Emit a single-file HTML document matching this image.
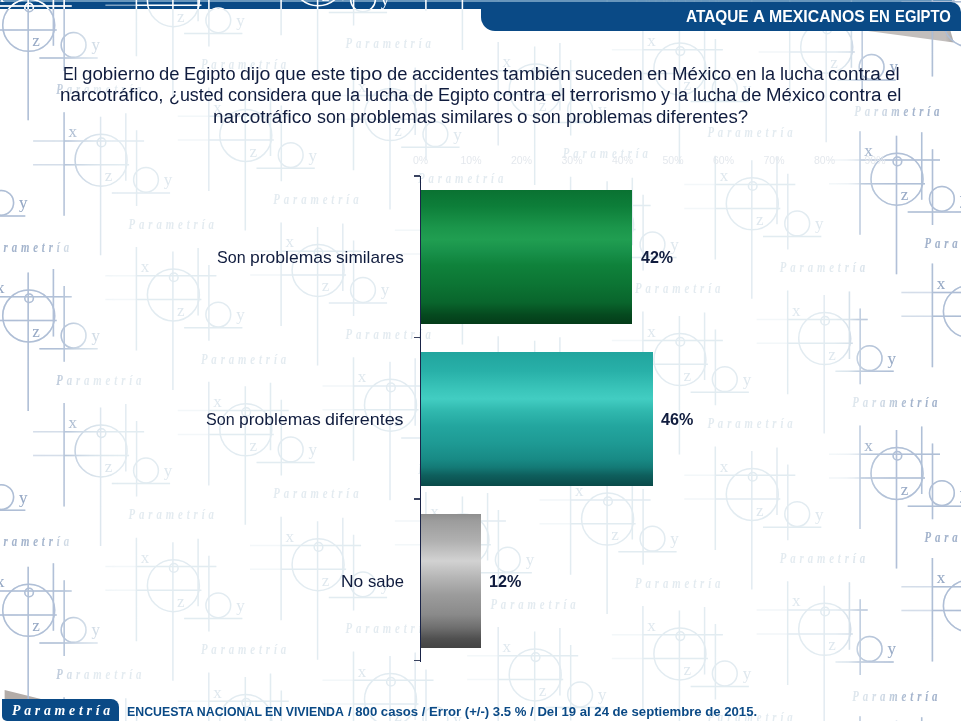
<!DOCTYPE html>
<html lang="es">
<head>
<meta charset="utf-8">
<title>Ataque a mexicanos en Egipto</title>
<style>
html,body{margin:0;padding:0;background:#fff;}
h1{margin:0;font-size:17px;}
body{width:961px;height:721px;position:relative;overflow:hidden;font-family:"Liberation Sans",sans-serif;}
.wm{position:absolute;left:0;top:0;}
.wm g.all{stroke-width:1.5;}
.wm circle,.wm path{fill:none;stroke-opacity:var(--so,1);}
.wm path.f{stroke-opacity:calc(var(--so,1)*.45);}
.wm text{stroke:none;fill-opacity:var(--lo,1);font-family:"Liberation Serif",serif;font-size:17px;text-anchor:middle;}
.wm text.pm{fill-opacity:var(--to,.85);font-style:italic;font-weight:bold;font-size:15px;letter-spacing:5.4px;text-anchor:start;}
.topbar{position:absolute;left:0;top:0;width:951.5px;height:9px;background:linear-gradient(#6896bc 0,#6896bc 1.6px,#0a4a86 2.4px,#0a4a86 100%);}
.tab{position:absolute;left:481px;top:2px;width:480px;height:29.4px;background:#0a4a86;border-radius:0 10px 0 14px;}
.tabsh{position:absolute;left:0;top:0;}
.t{position:absolute;white-space:pre;transform-origin:0 0;}
.ax{position:absolute;top:154px;width:30px;text-align:center;font-size:10.5px;line-height:12px;color:#e4e8ed;}
.axis{position:absolute;left:419.5px;top:176px;width:1.5px;height:486px;background:#1a2448;}
.tick{position:absolute;left:414.2px;width:6px;height:1.5px;background:#3a4360;margin-top:-0.8px;}
.bar{position:absolute;left:421px;height:134px;}
.b1{top:189.5px;width:211px;background:linear-gradient(#0a7232 0,#0d7e39 12%,#1b964b 28%,#209e51 37%,#18914a 46%,#0f823b 56%,#0c7534 70%,#09652c 84%,#054a1f 93%,#043c19 100%);}
.b2{top:351.5px;width:231.5px;background:linear-gradient(#21a59e 0,#28b0a8 14%,#3ac5ba 28%,#42cdc2 35%,#30b8ae 44%,#23a69f 55%,#1e9a94 68%,#188a85 80%,#147a76 86%,#0e5f5d 92%,#0a4a49 100%);}
.b3{top:513.5px;width:59.5px;background:linear-gradient(#8e8e8e 0,#9c9c9c 5%,#b0b0b0 20%,#d2d2d2 35%,#b4b4b4 48%,#9c9c9c 60%,#8a8a8a 75%,#6e6e6e 85%,#505050 93%,#444 100%);}
.logo{position:absolute;left:2px;top:699.3px;width:116.6px;height:21.7px;background:#0a4a86;border-radius:0 8px 0 5px;}
.logo span{position:absolute;left:10px;top:3.7px;font-family:"Liberation Serif",serif;font-style:italic;font-weight:bold;font-size:13.8px;line-height:16px;letter-spacing:3.75px;color:#fff;white-space:nowrap;}
</style>
</head>
<body>
<div class="topbar"></div>
<svg class="tabsh" width="961" height="50" viewBox="0 0 961 50">
<defs><linearGradient id="sh" x1="0" x2="1" y1="0" y2="0"><stop offset="0.9" stop-color="#c2bebc"/><stop offset="1" stop-color="#aaa6a4"/></linearGradient></defs>
<path d="M868 31L950.5 31L953.8 42.4Z" fill="url(#sh)"/>
</svg>
<svg class="tabsh" style="top:680px" width="60" height="41" viewBox="0 680 60 41">
<path d="M4.6 690L44 699.8L4.6 699.8Z" fill="#b3aca8"/>
</svg>
<svg class="wm" width="961" height="721" viewBox="0 0 961 721">
<defs>
<linearGradient id="fade" x1="0" x2="1" y1="0" y2="0">
<stop offset="0.0000" stop-color="#fff" stop-opacity="1"/>
<stop offset="0.0624" stop-color="#fff" stop-opacity="0.93"/>
<stop offset="0.0728" stop-color="#fff" stop-opacity="0.7"/>
<stop offset="0.0832" stop-color="#fff" stop-opacity="0.4"/>
<stop offset="0.0957" stop-color="#fff" stop-opacity="0.2"/>
<stop offset="0.1093" stop-color="#fff" stop-opacity="0.05"/>
<stop offset="0.1249" stop-color="#fff" stop-opacity="0"/>
<stop offset="0.8689" stop-color="#fff" stop-opacity="0"/>
<stop offset="0.8824" stop-color="#fff" stop-opacity="0.15"/>
<stop offset="0.8928" stop-color="#fff" stop-opacity="0.6"/>
<stop offset="0.9053" stop-color="#fff" stop-opacity="0.8"/>
<stop offset="0.9261" stop-color="#fff" stop-opacity="0.93"/>
<stop offset="1.0000" stop-color="#fff" stop-opacity="1"/>
</linearGradient>
<linearGradient id="fadet" x1="0" x2="1" y1="0" y2="0">
<stop offset="0.0000" stop-color="#fff" stop-opacity="1"/>
<stop offset="0.0520" stop-color="#fff" stop-opacity="0.9"/>
<stop offset="0.0593" stop-color="#fff" stop-opacity="0.6"/>
<stop offset="0.0687" stop-color="#fff" stop-opacity="0.25"/>
<stop offset="0.0832" stop-color="#fff" stop-opacity="0.05"/>
<stop offset="0.0989" stop-color="#fff" stop-opacity="0"/>
<stop offset="0.8637" stop-color="#fff" stop-opacity="0"/>
<stop offset="0.8845" stop-color="#fff" stop-opacity="0.04"/>
<stop offset="0.9053" stop-color="#fff" stop-opacity="0.16"/>
<stop offset="0.9209" stop-color="#fff" stop-opacity="0.36"/>
<stop offset="0.9324" stop-color="#fff" stop-opacity="0.62"/>
<stop offset="0.9448" stop-color="#fff" stop-opacity="0.93"/>
<stop offset="1.0000" stop-color="#fff" stop-opacity="1"/>
</linearGradient>
<clipPath id="tc"><rect x="0" y="0" width="481" height="9"/></clipPath>
<mask id="mk" maskUnits="userSpaceOnUse" x="0" y="0" width="961" height="721"><rect width="961" height="721" fill="url(#fade)"/></mask>
<mask id="mkt" maskUnits="userSpaceOnUse" x="0" y="0" width="961" height="721"><rect width="961" height="721" fill="url(#fadet)"/></mask>
</defs>
<g class="all" opacity="0.27" stroke="#94b6cb" fill="#86a8c0"><g id="mm"><g transform="translate(-116.0 46.3)"><circle r="26"/><circle cx="0.4" cy="-17.8" r="4.3"/><circle cx="44.9" cy="19.6" r="12.4"/><path d="M-37 -19.2H43M-37 4.6H28M10.7 32.7H69M-37 -48V55.6M-0.5 -43.5V95M24.7 -47V20.5M35.5 -30V45.7"/><path class="f" d="M-68 -19.2H-37M-68 4.6H-37"/><text x="-28.4" y="-23">x</text><text x="7.4" y="21">z</text><text x="67" y="25">y</text><text class="pm" transform="translate(27.5 68.5) scale(.72 1)">Parametría</text></g><g transform="translate(-116.0 340.6)"><circle r="26"/><circle cx="0.4" cy="-17.8" r="4.3"/><circle cx="44.9" cy="19.6" r="12.4"/><path d="M-37 -19.2H43M-37 4.6H28M10.7 32.7H69M-37 -48V55.6M-0.5 -43.5V95M24.7 -47V20.5M35.5 -30V45.7"/><path class="f" d="M-68 -19.2H-37M-68 4.6H-37"/><text x="-28.4" y="-23">x</text><text x="7.4" y="21">z</text><text x="67" y="25">y</text><text class="pm" transform="translate(27.5 68.5) scale(.72 1)">Parametría</text></g><g transform="translate(-116.0 631.3)"><circle r="26"/><circle cx="0.4" cy="-17.8" r="4.3"/><circle cx="44.9" cy="19.6" r="12.4"/><path d="M-37 -19.2H43M-37 4.6H28M10.7 32.7H69M-37 -48V55.6M-0.5 -43.5V95M24.7 -47V20.5M35.5 -30V45.7"/><path class="f" d="M-68 -19.2H-37M-68 4.6H-37"/><text x="-28.4" y="-23">x</text><text x="7.4" y="21">z</text><text x="67" y="25">y</text><text class="pm" transform="translate(27.5 68.5) scale(.72 1)">Parametría</text></g><g transform="translate(-43.7 -107.6)"><circle r="26"/><circle cx="0.4" cy="-17.8" r="4.3"/><circle cx="44.9" cy="19.6" r="12.4"/><path d="M-37 -19.2H43M-37 4.6H28M10.7 32.7H69M-37 -48V55.6M-0.5 -43.5V95M24.7 -47V20.5M35.5 -30V45.7"/><path class="f" d="M-68 -19.2H-37M-68 4.6H-37"/><text x="-28.4" y="-23">x</text><text x="7.4" y="21">z</text><text x="67" y="25">y</text><text class="pm" transform="translate(27.5 68.5) scale(.72 1)">Parametría</text></g><g transform="translate(-43.7 183.2)"><circle r="26"/><circle cx="0.4" cy="-17.8" r="4.3"/><circle cx="44.9" cy="19.6" r="12.4"/><path d="M-37 -19.2H43M-37 4.6H28M10.7 32.7H69M-37 -48V55.6M-0.5 -43.5V95M24.7 -47V20.5M35.5 -30V45.7"/><path class="f" d="M-68 -19.2H-37M-68 4.6H-37"/><text x="-28.4" y="-23">x</text><text x="7.4" y="21">z</text><text x="67" y="25">y</text><text class="pm" transform="translate(27.5 68.5) scale(.72 1)">Parametría</text></g><g transform="translate(-43.7 477.5)"><circle r="26"/><circle cx="0.4" cy="-17.8" r="4.3"/><circle cx="44.9" cy="19.6" r="12.4"/><path d="M-37 -19.2H43M-37 4.6H28M10.7 32.7H69M-37 -48V55.6M-0.5 -43.5V95M24.7 -47V20.5M35.5 -30V45.7"/><path class="f" d="M-68 -19.2H-37M-68 4.6H-37"/><text x="-28.4" y="-23">x</text><text x="7.4" y="21">z</text><text x="67" y="25">y</text><text class="pm" transform="translate(27.5 68.5) scale(.72 1)">Parametría</text></g><g transform="translate(-43.7 768.1)"><circle r="26"/><circle cx="0.4" cy="-17.8" r="4.3"/><circle cx="44.9" cy="19.6" r="12.4"/><path d="M-37 -19.2H43M-37 4.6H28M10.7 32.7H69M-37 -48V55.6M-0.5 -43.5V95M24.7 -47V20.5M35.5 -30V45.7"/><path class="f" d="M-68 -19.2H-37M-68 4.6H-37"/><text x="-28.4" y="-23">x</text><text x="7.4" y="21">z</text><text x="67" y="25">y</text><text class="pm" transform="translate(27.5 68.5) scale(.72 1)">Parametría</text></g><g transform="translate(28.7 25.3)"><circle r="26"/><circle cx="0.4" cy="-17.8" r="4.3"/><circle cx="44.9" cy="19.6" r="12.4"/><path d="M-37 -19.2H43M-37 4.6H28M10.7 32.7H69M-37 -48V55.6M-0.5 -43.5V95M24.7 -47V20.5M35.5 -30V45.7"/><path class="f" d="M-68 -19.2H-37M-68 4.6H-37"/><text x="-28.4" y="-23">x</text><text x="7.4" y="21">z</text><text x="67" y="25">y</text><text class="pm" transform="translate(27.5 68.5) scale(.72 1)">Parametría</text></g><g transform="translate(28.7 316.0)"><circle r="26"/><circle cx="0.4" cy="-17.8" r="4.3"/><circle cx="44.9" cy="19.6" r="12.4"/><path d="M-37 -19.2H43M-37 4.6H28M10.7 32.7H69M-37 -48V55.6M-0.5 -43.5V95M24.7 -47V20.5M35.5 -30V45.7"/><path class="f" d="M-68 -19.2H-37M-68 4.6H-37"/><text x="-28.4" y="-23">x</text><text x="7.4" y="21">z</text><text x="67" y="25">y</text><text class="pm" transform="translate(27.5 68.5) scale(.72 1)">Parametría</text></g><g transform="translate(28.7 610.3)"><circle r="26"/><circle cx="0.4" cy="-17.8" r="4.3"/><circle cx="44.9" cy="19.6" r="12.4"/><path d="M-37 -19.2H43M-37 4.6H28M10.7 32.7H69M-37 -48V55.6M-0.5 -43.5V95M24.7 -47V20.5M35.5 -30V45.7"/><path class="f" d="M-68 -19.2H-37M-68 4.6H-37"/><text x="-28.4" y="-23">x</text><text x="7.4" y="21">z</text><text x="67" y="25">y</text><text class="pm" transform="translate(27.5 68.5) scale(.72 1)">Parametría</text></g><g transform="translate(101.1 160.2)"><circle r="26"/><circle cx="0.4" cy="-17.8" r="4.3"/><circle cx="44.9" cy="19.6" r="12.4"/><path d="M-37 -19.2H43M-37 4.6H28M10.7 32.7H69M-37 -48V55.6M-0.5 -43.5V95M24.7 -47V20.5M35.5 -30V45.7"/><path class="f" d="M-68 -19.2H-37M-68 4.6H-37"/><text x="-28.4" y="-23">x</text><text x="7.4" y="21">z</text><text x="67" y="25">y</text><text class="pm" transform="translate(27.5 68.5) scale(.72 1)">Parametría</text></g><g transform="translate(101.1 450.9)"><circle r="26"/><circle cx="0.4" cy="-17.8" r="4.3"/><circle cx="44.9" cy="19.6" r="12.4"/><path d="M-37 -19.2H43M-37 4.6H28M10.7 32.7H69M-37 -48V55.6M-0.5 -43.5V95M24.7 -47V20.5M35.5 -30V45.7"/><path class="f" d="M-68 -19.2H-37M-68 4.6H-37"/><text x="-28.4" y="-23">x</text><text x="7.4" y="21">z</text><text x="67" y="25">y</text><text class="pm" transform="translate(27.5 68.5) scale(.72 1)">Parametría</text></g><g transform="translate(101.1 745.2)"><circle r="26"/><circle cx="0.4" cy="-17.8" r="4.3"/><circle cx="44.9" cy="19.6" r="12.4"/><path d="M-37 -19.2H43M-37 4.6H28M10.7 32.7H69M-37 -48V55.6M-0.5 -43.5V95M24.7 -47V20.5M35.5 -30V45.7"/><path class="f" d="M-68 -19.2H-37M-68 4.6H-37"/><text x="-28.4" y="-23">x</text><text x="7.4" y="21">z</text><text x="67" y="25">y</text><text class="pm" transform="translate(27.5 68.5) scale(.72 1)">Parametría</text></g><g transform="translate(173.4 0.7)"><circle r="26"/><circle cx="0.4" cy="-17.8" r="4.3"/><circle cx="44.9" cy="19.6" r="12.4"/><path d="M-37 -19.2H43M-37 4.6H28M10.7 32.7H69M-37 -48V55.6M-0.5 -43.5V95M24.7 -47V20.5M35.5 -30V45.7"/><path class="f" d="M-68 -19.2H-37M-68 4.6H-37"/><text x="-28.4" y="-23">x</text><text x="7.4" y="21">z</text><text x="67" y="25">y</text><text class="pm" transform="translate(27.5 68.5) scale(.72 1)">Parametría</text></g><g transform="translate(173.4 295.0)"><circle r="26"/><circle cx="0.4" cy="-17.8" r="4.3"/><circle cx="44.9" cy="19.6" r="12.4"/><path d="M-37 -19.2H43M-37 4.6H28M10.7 32.7H69M-37 -48V55.6M-0.5 -43.5V95M24.7 -47V20.5M35.5 -30V45.7"/><path class="f" d="M-68 -19.2H-37M-68 4.6H-37"/><text x="-28.4" y="-23">x</text><text x="7.4" y="21">z</text><text x="67" y="25">y</text><text class="pm" transform="translate(27.5 68.5) scale(.72 1)">Parametría</text></g><g transform="translate(173.4 585.7)"><circle r="26"/><circle cx="0.4" cy="-17.8" r="4.3"/><circle cx="44.9" cy="19.6" r="12.4"/><path d="M-37 -19.2H43M-37 4.6H28M10.7 32.7H69M-37 -48V55.6M-0.5 -43.5V95M24.7 -47V20.5M35.5 -30V45.7"/><path class="f" d="M-68 -19.2H-37M-68 4.6H-37"/><text x="-28.4" y="-23">x</text><text x="7.4" y="21">z</text><text x="67" y="25">y</text><text class="pm" transform="translate(27.5 68.5) scale(.72 1)">Parametría</text></g><g transform="translate(245.8 135.5)"><circle r="26"/><circle cx="0.4" cy="-17.8" r="4.3"/><circle cx="44.9" cy="19.6" r="12.4"/><path d="M-37 -19.2H43M-37 4.6H28M10.7 32.7H69M-37 -48V55.6M-0.5 -43.5V95M24.7 -47V20.5M35.5 -30V45.7"/><path class="f" d="M-68 -19.2H-37M-68 4.6H-37"/><text x="-28.4" y="-23">x</text><text x="7.4" y="21">z</text><text x="67" y="25">y</text><text class="pm" transform="translate(27.5 68.5) scale(.72 1)">Parametría</text></g><g transform="translate(245.8 429.8)"><circle r="26"/><circle cx="0.4" cy="-17.8" r="4.3"/><circle cx="44.9" cy="19.6" r="12.4"/><path d="M-37 -19.2H43M-37 4.6H28M10.7 32.7H69M-37 -48V55.6M-0.5 -43.5V95M24.7 -47V20.5M35.5 -30V45.7"/><path class="f" d="M-68 -19.2H-37M-68 4.6H-37"/><text x="-28.4" y="-23">x</text><text x="7.4" y="21">z</text><text x="67" y="25">y</text><text class="pm" transform="translate(27.5 68.5) scale(.72 1)">Parametría</text></g><g transform="translate(245.8 720.5)"><circle r="26"/><circle cx="0.4" cy="-17.8" r="4.3"/><circle cx="44.9" cy="19.6" r="12.4"/><path d="M-37 -19.2H43M-37 4.6H28M10.7 32.7H69M-37 -48V55.6M-0.5 -43.5V95M24.7 -47V20.5M35.5 -30V45.7"/><path class="f" d="M-68 -19.2H-37M-68 4.6H-37"/><text x="-28.4" y="-23">x</text><text x="7.4" y="21">z</text><text x="67" y="25">y</text><text class="pm" transform="translate(27.5 68.5) scale(.72 1)">Parametría</text></g><g transform="translate(318.1 -20.3)"><circle r="26"/><circle cx="0.4" cy="-17.8" r="4.3"/><circle cx="44.9" cy="19.6" r="12.4"/><path d="M-37 -19.2H43M-37 4.6H28M10.7 32.7H69M-37 -48V55.6M-0.5 -43.5V95M24.7 -47V20.5M35.5 -30V45.7"/><path class="f" d="M-68 -19.2H-37M-68 4.6H-37"/><text x="-28.4" y="-23">x</text><text x="7.4" y="21">z</text><text x="67" y="25">y</text><text class="pm" transform="translate(27.5 68.5) scale(.72 1)">Parametría</text></g><g transform="translate(318.1 270.4)"><circle r="26"/><circle cx="0.4" cy="-17.8" r="4.3"/><circle cx="44.9" cy="19.6" r="12.4"/><path d="M-37 -19.2H43M-37 4.6H28M10.7 32.7H69M-37 -48V55.6M-0.5 -43.5V95M24.7 -47V20.5M35.5 -30V45.7"/><path class="f" d="M-68 -19.2H-37M-68 4.6H-37"/><text x="-28.4" y="-23">x</text><text x="7.4" y="21">z</text><text x="67" y="25">y</text><text class="pm" transform="translate(27.5 68.5) scale(.72 1)">Parametría</text></g><g transform="translate(318.1 564.7)"><circle r="26"/><circle cx="0.4" cy="-17.8" r="4.3"/><circle cx="44.9" cy="19.6" r="12.4"/><path d="M-37 -19.2H43M-37 4.6H28M10.7 32.7H69M-37 -48V55.6M-0.5 -43.5V95M24.7 -47V20.5M35.5 -30V45.7"/><path class="f" d="M-68 -19.2H-37M-68 4.6H-37"/><text x="-28.4" y="-23">x</text><text x="7.4" y="21">z</text><text x="67" y="25">y</text><text class="pm" transform="translate(27.5 68.5) scale(.72 1)">Parametría</text></g><g transform="translate(390.5 114.6)"><circle r="26"/><circle cx="0.4" cy="-17.8" r="4.3"/><circle cx="44.9" cy="19.6" r="12.4"/><path d="M-37 -19.2H43M-37 4.6H28M10.7 32.7H69M-37 -48V55.6M-0.5 -43.5V95M24.7 -47V20.5M35.5 -30V45.7"/><path class="f" d="M-68 -19.2H-37M-68 4.6H-37"/><text x="-28.4" y="-23">x</text><text x="7.4" y="21">z</text><text x="67" y="25">y</text><text class="pm" transform="translate(27.5 68.5) scale(.72 1)">Parametría</text></g><g transform="translate(390.5 405.2)"><circle r="26"/><circle cx="0.4" cy="-17.8" r="4.3"/><circle cx="44.9" cy="19.6" r="12.4"/><path d="M-37 -19.2H43M-37 4.6H28M10.7 32.7H69M-37 -48V55.6M-0.5 -43.5V95M24.7 -47V20.5M35.5 -30V45.7"/><path class="f" d="M-68 -19.2H-37M-68 4.6H-37"/><text x="-28.4" y="-23">x</text><text x="7.4" y="21">z</text><text x="67" y="25">y</text><text class="pm" transform="translate(27.5 68.5) scale(.72 1)">Parametría</text></g><g transform="translate(390.5 699.5)"><circle r="26"/><circle cx="0.4" cy="-17.8" r="4.3"/><circle cx="44.9" cy="19.6" r="12.4"/><path d="M-37 -19.2H43M-37 4.6H28M10.7 32.7H69M-37 -48V55.6M-0.5 -43.5V95M24.7 -47V20.5M35.5 -30V45.7"/><path class="f" d="M-68 -19.2H-37M-68 4.6H-37"/><text x="-28.4" y="-23">x</text><text x="7.4" y="21">z</text><text x="67" y="25">y</text><text class="pm" transform="translate(27.5 68.5) scale(.72 1)">Parametría</text></g><g transform="translate(462.9 -44.9)"><circle r="26"/><circle cx="0.4" cy="-17.8" r="4.3"/><circle cx="44.9" cy="19.6" r="12.4"/><path d="M-37 -19.2H43M-37 4.6H28M10.7 32.7H69M-37 -48V55.6M-0.5 -43.5V95M24.7 -47V20.5M35.5 -30V45.7"/><path class="f" d="M-68 -19.2H-37M-68 4.6H-37"/><text x="-28.4" y="-23">x</text><text x="7.4" y="21">z</text><text x="67" y="25">y</text><text class="pm" transform="translate(27.5 68.5) scale(.72 1)">Parametría</text></g><g transform="translate(462.9 249.4)"><circle r="26"/><circle cx="0.4" cy="-17.8" r="4.3"/><circle cx="44.9" cy="19.6" r="12.4"/><path d="M-37 -19.2H43M-37 4.6H28M10.7 32.7H69M-37 -48V55.6M-0.5 -43.5V95M24.7 -47V20.5M35.5 -30V45.7"/><path class="f" d="M-68 -19.2H-37M-68 4.6H-37"/><text x="-28.4" y="-23">x</text><text x="7.4" y="21">z</text><text x="67" y="25">y</text><text class="pm" transform="translate(27.5 68.5) scale(.72 1)">Parametría</text></g><g transform="translate(462.9 540.1)"><circle r="26"/><circle cx="0.4" cy="-17.8" r="4.3"/><circle cx="44.9" cy="19.6" r="12.4"/><path d="M-37 -19.2H43M-37 4.6H28M10.7 32.7H69M-37 -48V55.6M-0.5 -43.5V95M24.7 -47V20.5M35.5 -30V45.7"/><path class="f" d="M-68 -19.2H-37M-68 4.6H-37"/><text x="-28.4" y="-23">x</text><text x="7.4" y="21">z</text><text x="67" y="25">y</text><text class="pm" transform="translate(27.5 68.5) scale(.72 1)">Parametría</text></g><g transform="translate(535.2 89.9)"><circle r="26"/><circle cx="0.4" cy="-17.8" r="4.3"/><circle cx="44.9" cy="19.6" r="12.4"/><path d="M-37 -19.2H43M-37 4.6H28M10.7 32.7H69M-37 -48V55.6M-0.5 -43.5V95M24.7 -47V20.5M35.5 -30V45.7"/><path class="f" d="M-68 -19.2H-37M-68 4.6H-37"/><text x="-28.4" y="-23">x</text><text x="7.4" y="21">z</text><text x="67" y="25">y</text><text class="pm" transform="translate(27.5 68.5) scale(.72 1)">Parametría</text></g><g transform="translate(535.2 384.2)"><circle r="26"/><circle cx="0.4" cy="-17.8" r="4.3"/><circle cx="44.9" cy="19.6" r="12.4"/><path d="M-37 -19.2H43M-37 4.6H28M10.7 32.7H69M-37 -48V55.6M-0.5 -43.5V95M24.7 -47V20.5M35.5 -30V45.7"/><path class="f" d="M-68 -19.2H-37M-68 4.6H-37"/><text x="-28.4" y="-23">x</text><text x="7.4" y="21">z</text><text x="67" y="25">y</text><text class="pm" transform="translate(27.5 68.5) scale(.72 1)">Parametría</text></g><g transform="translate(535.2 674.9)"><circle r="26"/><circle cx="0.4" cy="-17.8" r="4.3"/><circle cx="44.9" cy="19.6" r="12.4"/><path d="M-37 -19.2H43M-37 4.6H28M10.7 32.7H69M-37 -48V55.6M-0.5 -43.5V95M24.7 -47V20.5M35.5 -30V45.7"/><path class="f" d="M-68 -19.2H-37M-68 4.6H-37"/><text x="-28.4" y="-23">x</text><text x="7.4" y="21">z</text><text x="67" y="25">y</text><text class="pm" transform="translate(27.5 68.5) scale(.72 1)">Parametría</text></g><g transform="translate(607.6 -65.9)"><circle r="26"/><circle cx="0.4" cy="-17.8" r="4.3"/><circle cx="44.9" cy="19.6" r="12.4"/><path d="M-37 -19.2H43M-37 4.6H28M10.7 32.7H69M-37 -48V55.6M-0.5 -43.5V95M24.7 -47V20.5M35.5 -30V45.7"/><path class="f" d="M-68 -19.2H-37M-68 4.6H-37"/><text x="-28.4" y="-23">x</text><text x="7.4" y="21">z</text><text x="67" y="25">y</text><text class="pm" transform="translate(27.5 68.5) scale(.72 1)">Parametría</text></g><g transform="translate(607.6 224.8)"><circle r="26"/><circle cx="0.4" cy="-17.8" r="4.3"/><circle cx="44.9" cy="19.6" r="12.4"/><path d="M-37 -19.2H43M-37 4.6H28M10.7 32.7H69M-37 -48V55.6M-0.5 -43.5V95M24.7 -47V20.5M35.5 -30V45.7"/><path class="f" d="M-68 -19.2H-37M-68 4.6H-37"/><text x="-28.4" y="-23">x</text><text x="7.4" y="21">z</text><text x="67" y="25">y</text><text class="pm" transform="translate(27.5 68.5) scale(.72 1)">Parametría</text></g><g transform="translate(607.6 519.1)"><circle r="26"/><circle cx="0.4" cy="-17.8" r="4.3"/><circle cx="44.9" cy="19.6" r="12.4"/><path d="M-37 -19.2H43M-37 4.6H28M10.7 32.7H69M-37 -48V55.6M-0.5 -43.5V95M24.7 -47V20.5M35.5 -30V45.7"/><path class="f" d="M-68 -19.2H-37M-68 4.6H-37"/><text x="-28.4" y="-23">x</text><text x="7.4" y="21">z</text><text x="67" y="25">y</text><text class="pm" transform="translate(27.5 68.5) scale(.72 1)">Parametría</text></g><g transform="translate(679.9 68.9)"><circle r="26"/><circle cx="0.4" cy="-17.8" r="4.3"/><circle cx="44.9" cy="19.6" r="12.4"/><path d="M-37 -19.2H43M-37 4.6H28M10.7 32.7H69M-37 -48V55.6M-0.5 -43.5V95M24.7 -47V20.5M35.5 -30V45.7"/><path class="f" d="M-68 -19.2H-37M-68 4.6H-37"/><text x="-28.4" y="-23">x</text><text x="7.4" y="21">z</text><text x="67" y="25">y</text><text class="pm" transform="translate(27.5 68.5) scale(.72 1)">Parametría</text></g><g transform="translate(679.9 359.6)"><circle r="26"/><circle cx="0.4" cy="-17.8" r="4.3"/><circle cx="44.9" cy="19.6" r="12.4"/><path d="M-37 -19.2H43M-37 4.6H28M10.7 32.7H69M-37 -48V55.6M-0.5 -43.5V95M24.7 -47V20.5M35.5 -30V45.7"/><path class="f" d="M-68 -19.2H-37M-68 4.6H-37"/><text x="-28.4" y="-23">x</text><text x="7.4" y="21">z</text><text x="67" y="25">y</text><text class="pm" transform="translate(27.5 68.5) scale(.72 1)">Parametría</text></g><g transform="translate(679.9 653.9)"><circle r="26"/><circle cx="0.4" cy="-17.8" r="4.3"/><circle cx="44.9" cy="19.6" r="12.4"/><path d="M-37 -19.2H43M-37 4.6H28M10.7 32.7H69M-37 -48V55.6M-0.5 -43.5V95M24.7 -47V20.5M35.5 -30V45.7"/><path class="f" d="M-68 -19.2H-37M-68 4.6H-37"/><text x="-28.4" y="-23">x</text><text x="7.4" y="21">z</text><text x="67" y="25">y</text><text class="pm" transform="translate(27.5 68.5) scale(.72 1)">Parametría</text></g><g transform="translate(752.3 -90.5)"><circle r="26"/><circle cx="0.4" cy="-17.8" r="4.3"/><circle cx="44.9" cy="19.6" r="12.4"/><path d="M-37 -19.2H43M-37 4.6H28M10.7 32.7H69M-37 -48V55.6M-0.5 -43.5V95M24.7 -47V20.5M35.5 -30V45.7"/><path class="f" d="M-68 -19.2H-37M-68 4.6H-37"/><text x="-28.4" y="-23">x</text><text x="7.4" y="21">z</text><text x="67" y="25">y</text><text class="pm" transform="translate(27.5 68.5) scale(.72 1)">Parametría</text></g><g transform="translate(752.3 203.8)"><circle r="26"/><circle cx="0.4" cy="-17.8" r="4.3"/><circle cx="44.9" cy="19.6" r="12.4"/><path d="M-37 -19.2H43M-37 4.6H28M10.7 32.7H69M-37 -48V55.6M-0.5 -43.5V95M24.7 -47V20.5M35.5 -30V45.7"/><path class="f" d="M-68 -19.2H-37M-68 4.6H-37"/><text x="-28.4" y="-23">x</text><text x="7.4" y="21">z</text><text x="67" y="25">y</text><text class="pm" transform="translate(27.5 68.5) scale(.72 1)">Parametría</text></g><g transform="translate(752.3 494.5)"><circle r="26"/><circle cx="0.4" cy="-17.8" r="4.3"/><circle cx="44.9" cy="19.6" r="12.4"/><path d="M-37 -19.2H43M-37 4.6H28M10.7 32.7H69M-37 -48V55.6M-0.5 -43.5V95M24.7 -47V20.5M35.5 -30V45.7"/><path class="f" d="M-68 -19.2H-37M-68 4.6H-37"/><text x="-28.4" y="-23">x</text><text x="7.4" y="21">z</text><text x="67" y="25">y</text><text class="pm" transform="translate(27.5 68.5) scale(.72 1)">Parametría</text></g><g transform="translate(826.7 47.3)"><circle r="26"/><circle cx="0.4" cy="-17.8" r="4.3"/><circle cx="44.9" cy="19.6" r="12.4"/><path d="M-37 -19.2H43M-37 4.6H28M10.7 32.7H69M-37 -48V55.6M-0.5 -43.5V95M24.7 -47V20.5M35.5 -30V45.7"/><path class="f" d="M-68 -19.2H-37M-68 4.6H-37"/><text x="-28.4" y="-23">x</text><text x="7.4" y="21">z</text><text x="67" y="25">y</text><text class="pm" transform="translate(27.5 68.5) scale(.72 1)">Parametría</text></g><g transform="translate(824.7 338.6)"><circle r="26"/><circle cx="0.4" cy="-17.8" r="4.3"/><circle cx="44.9" cy="19.6" r="12.4"/><path d="M-37 -19.2H43M-37 4.6H28M10.7 32.7H69M-37 -48V55.6M-0.5 -43.5V95M24.7 -47V20.5M35.5 -30V45.7"/><path class="f" d="M-68 -19.2H-37M-68 4.6H-37"/><text x="-28.4" y="-23">x</text><text x="7.4" y="21">z</text><text x="67" y="25">y</text><text class="pm" transform="translate(27.5 68.5) scale(.72 1)">Parametría</text></g><g transform="translate(824.7 629.3)"><circle r="26"/><circle cx="0.4" cy="-17.8" r="4.3"/><circle cx="44.9" cy="19.6" r="12.4"/><path d="M-37 -19.2H43M-37 4.6H28M10.7 32.7H69M-37 -48V55.6M-0.5 -43.5V95M24.7 -47V20.5M35.5 -30V45.7"/><path class="f" d="M-68 -19.2H-37M-68 4.6H-37"/><text x="-28.4" y="-23">x</text><text x="7.4" y="21">z</text><text x="67" y="25">y</text><text class="pm" transform="translate(27.5 72) scale(.72 1)">Parametría</text></g><g transform="translate(897.0 179.2)"><circle r="26"/><circle cx="0.4" cy="-17.8" r="4.3"/><circle cx="44.9" cy="19.6" r="12.4"/><path d="M-37 -19.2H43M-37 4.6H28M10.7 32.7H69M-37 -48V55.6M-0.5 -43.5V95M24.7 -47V20.5M35.5 -30V45.7"/><path class="f" d="M-68 -19.2H-37M-68 4.6H-37"/><text x="-28.4" y="-23">x</text><text x="7.4" y="21">z</text><text x="67" y="25">y</text><text class="pm" transform="translate(27.5 68.5) scale(.72 1)">Parametría</text></g><g transform="translate(897.0 473.5)"><circle r="26"/><circle cx="0.4" cy="-17.8" r="4.3"/><circle cx="44.9" cy="19.6" r="12.4"/><path d="M-37 -19.2H43M-37 4.6H28M10.7 32.7H69M-37 -48V55.6M-0.5 -43.5V95M24.7 -47V20.5M35.5 -30V45.7"/><path class="f" d="M-68 -19.2H-37M-68 4.6H-37"/><text x="-28.4" y="-23">x</text><text x="7.4" y="21">z</text><text x="67" y="25">y</text><text class="pm" transform="translate(27.5 68.5) scale(.72 1)">Parametría</text></g><g transform="translate(897.0 764.2)"><circle r="26"/><circle cx="0.4" cy="-17.8" r="4.3"/><circle cx="44.9" cy="19.6" r="12.4"/><path d="M-37 -19.2H43M-37 4.6H28M10.7 32.7H69M-37 -48V55.6M-0.5 -43.5V95M24.7 -47V20.5M35.5 -30V45.7"/><path class="f" d="M-68 -19.2H-37M-68 4.6H-37"/><text x="-28.4" y="-23">x</text><text x="7.4" y="21">z</text><text x="67" y="25">y</text><text class="pm" transform="translate(27.5 68.5) scale(.72 1)">Parametría</text></g><g transform="translate(969.4 20.9)"><circle r="26"/><circle cx="0.4" cy="-17.8" r="4.3"/><circle cx="44.9" cy="19.6" r="12.4"/><path d="M-37 -19.2H43M-37 4.6H28M10.7 32.7H69M-37 -48V55.6M-0.5 -43.5V95M24.7 -47V20.5M35.5 -30V45.7"/><path class="f" d="M-68 -19.2H-37M-68 4.6H-37"/><text x="-28.4" y="-23">x</text><text x="7.4" y="21">z</text><text x="67" y="25">y</text><text class="pm" transform="translate(27.5 68.5) scale(.72 1)">Parametría</text></g><g transform="translate(969.4 311.6)"><circle r="26"/><circle cx="0.4" cy="-17.8" r="4.3"/><circle cx="44.9" cy="19.6" r="12.4"/><path d="M-37 -19.2H43M-37 4.6H28M10.7 32.7H69M-37 -48V55.6M-0.5 -43.5V95M24.7 -47V20.5M35.5 -30V45.7"/><path class="f" d="M-68 -19.2H-37M-68 4.6H-37"/><text x="-28.4" y="-23">x</text><text x="7.4" y="21">z</text><text x="67" y="25">y</text><text class="pm" transform="translate(27.5 68.5) scale(.72 1)">Parametría</text></g><g transform="translate(969.4 605.9)"><circle r="26"/><circle cx="0.4" cy="-17.8" r="4.3"/><circle cx="44.9" cy="19.6" r="12.4"/><path d="M-37 -19.2H43M-37 4.6H28M10.7 32.7H69M-37 -48V55.6M-0.5 -43.5V95M24.7 -47V20.5M35.5 -30V45.7"/><path class="f" d="M-68 -19.2H-37M-68 4.6H-37"/><text x="-28.4" y="-23">x</text><text x="7.4" y="21">z</text><text x="67" y="25">y</text><text class="pm" transform="translate(27.5 68.5) scale(.72 1)">Parametría</text></g></g></g>
<g class="all" mask="url(#mk)" stroke="#aebdd5" fill="#95a7c4" style="--to:0"><use href="#mm"/></g>
<g class="all" mask="url(#mkt)" stroke="none" fill="#95a7c4" style="--so:0;--lo:0"><use href="#mm"/></g>
<g class="all top" clip-path="url(#tc)" stroke="#fff" stroke-opacity="0.75" fill="#fff" fill-opacity="0.75"><use href="#mm"/></g>
</svg>
<div class="tab"></div>
<div class="ax" style="left:405.5px">0%</div><div class="ax" style="left:456.0px">10%</div><div class="ax" style="left:506.5px">20%</div><div class="ax" style="left:557.0px">30%</div><div class="ax" style="left:607.5px">40%</div><div class="ax" style="left:658.0px">50%</div><div class="ax" style="left:708.5px">60%</div><div class="ax" style="left:759.0px">70%</div><div class="ax" style="left:809.5px">80%</div><div class="ax" style="left:860.0px">90%</div>
<div class="axis"></div>
<div class="tick" style="top:176px"></div><div class="tick" style="top:337.5px"></div><div class="tick" style="top:499px"></div><div class="tick" style="top:660.5px"></div>
<div class="bar b1"></div><div class="bar b2"></div><div class="bar b3"></div>
<div class="logo"><span>Parametría</span></div>

<div><span class="t" style="left:62.90px;top:64px;font-size:17.6px;line-height:20px;font-weight:400;color:#101c3e;transform:scaleX(0.9171)">El </span><span class="t" style="left:81.77px;top:64px;font-size:17.6px;line-height:20px;font-weight:400;color:#101c3e;transform:scaleX(1.0660)">gobierno </span><span class="t" style="left:159.32px;top:64px;font-size:17.6px;line-height:20px;font-weight:400;color:#101c3e;transform:scaleX(1.0448)">de </span><span class="t" style="left:184.29px;top:64px;font-size:17.6px;line-height:20px;font-weight:400;color:#101c3e;transform:scaleX(1.0322)">Egipto </span><span class="t" style="left:240.33px;top:64px;font-size:17.6px;line-height:20px;font-weight:400;color:#101c3e;transform:scaleX(1.1104)">dijo </span><span class="t" style="left:275.27px;top:64px;font-size:17.6px;line-height:20px;font-weight:400;color:#101c3e;transform:scaleX(1.0543)">que </span><span class="t" style="left:310.75px;top:64px;font-size:17.6px;line-height:20px;font-weight:400;color:#101c3e;transform:scaleX(1.0346)">este </span><span class="t" style="left:349.69px;top:64px;font-size:17.6px;line-height:20px;font-weight:400;color:#101c3e;transform:scaleX(1.1395)">tipo </span><span class="t" style="left:386.55px;top:64px;font-size:17.6px;line-height:20px;font-weight:400;color:#101c3e;transform:scaleX(1.0448)">de </span><span class="t" style="left:411.52px;top:64px;font-size:17.6px;line-height:20px;font-weight:400;color:#101c3e;transform:scaleX(1.0281)">accidentes </span><span class="t" style="left:502.55px;top:64px;font-size:17.6px;line-height:20px;font-weight:400;color:#101c3e;transform:scaleX(1.0828)">también </span><span class="t" style="left:574.87px;top:64px;font-size:17.6px;line-height:20px;font-weight:400;color:#101c3e;transform:scaleX(1.0173)">suceden </span><span class="t" style="left:647.08px;top:64px;font-size:17.6px;line-height:20px;font-weight:400;color:#101c3e;transform:scaleX(1.0448)">en </span><span class="t" style="left:672.06px;top:64px;font-size:17.6px;line-height:20px;font-weight:400;color:#101c3e;transform:scaleX(1.0636)">México </span><span class="t" style="left:735.87px;top:64px;font-size:17.6px;line-height:20px;font-weight:400;color:#101c3e;transform:scaleX(1.0448)">en </span><span class="t" style="left:760.85px;top:64px;font-size:17.6px;line-height:20px;font-weight:400;color:#101c3e;transform:scaleX(1.0342)">la </span><span class="t" style="left:779.53px;top:64px;font-size:17.6px;line-height:20px;font-weight:400;color:#101c3e;transform:scaleX(1.0370)">lucha </span><span class="t" style="left:827.69px;top:64px;font-size:17.6px;line-height:20px;font-weight:400;color:#101c3e;transform:scaleX(1.0784)">contra </span><span class="t" style="left:884.96px;top:64px;font-size:17.6px;line-height:20px;font-weight:400;color:#101c3e;transform:scaleX(1.0612)">el</span></div>
<div><span class="t" style="left:60.40px;top:85px;font-size:17.6px;line-height:20px;font-weight:400;color:#101c3e;transform:scaleX(1.0701)">narcotráfico, </span><span class="t" style="left:168.54px;top:85px;font-size:17.6px;line-height:20px;font-weight:400;color:#101c3e;transform:scaleX(1.0140)">¿usted </span><span class="t" style="left:227.60px;top:85px;font-size:17.6px;line-height:20px;font-weight:400;color:#101c3e;transform:scaleX(1.0306)">considera </span><span class="t" style="left:310.76px;top:85px;font-size:17.6px;line-height:20px;font-weight:400;color:#101c3e;transform:scaleX(1.0507)">que </span><span class="t" style="left:346.12px;top:85px;font-size:17.6px;line-height:20px;font-weight:400;color:#101c3e;transform:scaleX(1.0307)">la </span><span class="t" style="left:364.75px;top:85px;font-size:17.6px;line-height:20px;font-weight:400;color:#101c3e;transform:scaleX(1.0335)">lucha </span><span class="t" style="left:412.74px;top:85px;font-size:17.6px;line-height:20px;font-weight:400;color:#101c3e;transform:scaleX(1.0413)">de </span><span class="t" style="left:437.63px;top:85px;font-size:17.6px;line-height:20px;font-weight:400;color:#101c3e;transform:scaleX(1.0287)">Egipto </span><span class="t" style="left:493.48px;top:85px;font-size:17.6px;line-height:20px;font-weight:400;color:#101c3e;transform:scaleX(1.0748)">contra </span><span class="t" style="left:550.56px;top:85px;font-size:17.6px;line-height:20px;font-weight:400;color:#101c3e;transform:scaleX(1.0577)">el </span><span class="t" style="left:569.55px;top:85px;font-size:17.6px;line-height:20px;font-weight:400;color:#101c3e;transform:scaleX(1.0951)">terrorismo </span><span class="t" style="left:660.80px;top:85px;font-size:17.6px;line-height:20px;font-weight:400;color:#101c3e;transform:scaleX(1.0250)">y </span><span class="t" style="left:674.32px;top:85px;font-size:17.6px;line-height:20px;font-weight:400;color:#101c3e;transform:scaleX(1.0307)">la </span><span class="t" style="left:692.95px;top:85px;font-size:17.6px;line-height:20px;font-weight:400;color:#101c3e;transform:scaleX(1.0335)">lucha </span><span class="t" style="left:740.94px;top:85px;font-size:17.6px;line-height:20px;font-weight:400;color:#101c3e;transform:scaleX(1.0413)">de </span><span class="t" style="left:765.83px;top:85px;font-size:17.6px;line-height:20px;font-weight:400;color:#101c3e;transform:scaleX(1.0600)">México </span><span class="t" style="left:829.43px;top:85px;font-size:17.6px;line-height:20px;font-weight:400;color:#101c3e;transform:scaleX(1.0748)">contra </span><span class="t" style="left:886.51px;top:85px;font-size:17.6px;line-height:20px;font-weight:400;color:#101c3e;transform:scaleX(1.0577)">el</span></div>
<div><span class="t" style="left:213.40px;top:107px;font-size:17.6px;line-height:20px;font-weight:400;color:#101c3e;transform:scaleX(1.0748)">narcotráfico </span><span class="t" style="left:316.74px;top:107px;font-size:17.6px;line-height:20px;font-weight:400;color:#101c3e;transform:scaleX(1.0157)">son </span><span class="t" style="left:350.08px;top:107px;font-size:17.6px;line-height:20px;font-weight:400;color:#101c3e;transform:scaleX(1.0501)">problemas </span><span class="t" style="left:440.89px;top:107px;font-size:17.6px;line-height:20px;font-weight:400;color:#101c3e;transform:scaleX(1.0336)">similares </span><span class="t" style="left:517.16px;top:107px;font-size:17.6px;line-height:20px;font-weight:400;color:#101c3e;transform:scaleX(1.0755)">o </span><span class="t" style="left:532.20px;top:107px;font-size:17.6px;line-height:20px;font-weight:400;color:#101c3e;transform:scaleX(1.0157)">son </span><span class="t" style="left:565.54px;top:107px;font-size:17.6px;line-height:20px;font-weight:400;color:#101c3e;transform:scaleX(1.0501)">problemas </span><span class="t" style="left:656.35px;top:107px;font-size:17.6px;line-height:20px;font-weight:400;color:#101c3e;transform:scaleX(1.0582)">diferentes?</span></div>
<div><span class="t" style="left:217.10px;top:248px;font-size:16.4px;line-height:18px;font-weight:400;color:#101c3e;transform:scaleX(0.9801)">Son </span><span class="t" style="left:249.98px;top:248px;font-size:16.4px;line-height:18px;font-weight:400;color:#101c3e;transform:scaleX(1.0677)">problemas </span><span class="t" style="left:336.01px;top:248px;font-size:16.4px;line-height:18px;font-weight:400;color:#101c3e;transform:scaleX(1.0509)">similares</span></div>
<div><span class="t" style="left:206.40px;top:410px;font-size:16.4px;line-height:18px;font-weight:400;color:#101c3e;transform:scaleX(0.9808)">Son </span><span class="t" style="left:239.30px;top:410px;font-size:16.4px;line-height:18px;font-weight:400;color:#101c3e;transform:scaleX(1.0685)">problemas </span><span class="t" style="left:325.40px;top:410px;font-size:16.4px;line-height:18px;font-weight:400;color:#101c3e;transform:scaleX(1.0913)">diferentes</span></div>
<div><span class="t" style="left:340.90px;top:572px;font-size:16.4px;line-height:18px;font-weight:400;color:#101c3e;transform:scaleX(1.0638)">No </span><span class="t" style="left:367.50px;top:572px;font-size:16.4px;line-height:18px;font-weight:400;color:#101c3e;transform:scaleX(1.0122)">sabe</span></div>
<div><span class="t" style="left:640.76px;top:248px;font-size:16.6px;line-height:19px;font-weight:700;color:#101c3e;transform:scaleX(0.9669)">42%</span><span class="t" style="left:660.76px;top:410px;font-size:16.6px;line-height:19px;font-weight:700;color:#101c3e;transform:scaleX(0.9731)">46%</span><span class="t" style="left:488.99px;top:572px;font-size:16.6px;line-height:19px;font-weight:700;color:#101c3e;transform:scaleX(0.9752)">12%</span></div>
<h1><span class="t" style="left:686.12px;top:7px;font-size:17px;line-height:19px;font-weight:700;color:#ffffff;transform:scaleX(0.9016)">ATAQUE </span><span class="t" style="left:753.28px;top:7px;font-size:17px;line-height:19px;font-weight:700;color:#ffffff;transform:scaleX(0.9884)">A </span><span class="t" style="left:768.67px;top:7px;font-size:17px;line-height:19px;font-weight:700;color:#ffffff;transform:scaleX(0.9315)">MEXICANOS </span><span class="t" style="left:869.23px;top:7px;font-size:17px;line-height:19px;font-weight:700;color:#ffffff;transform:scaleX(0.8794)">EN </span><span class="t" style="left:894.73px;top:7px;font-size:17px;line-height:19px;font-weight:700;color:#ffffff;transform:scaleX(0.8739)">EGIPTO</span></h1>
<footer><span class="t" style="left:127.20px;top:704px;font-size:13.2px;line-height:15px;font-weight:700;color:#0b4a86;transform:scaleX(0.9348)">ENCUESTA NACIONAL EN VIVIENDA </span><span class="t" style="left:348.40px;top:704px;font-size:13.2px;line-height:15px;font-weight:700;color:#0b4a86;transform:scaleX(0.9957)">/ 800 casos / Error (+/-) 3.5 % / Del 19 al 24 de septiembre de 2015.</span></footer>
</body>
</html>
